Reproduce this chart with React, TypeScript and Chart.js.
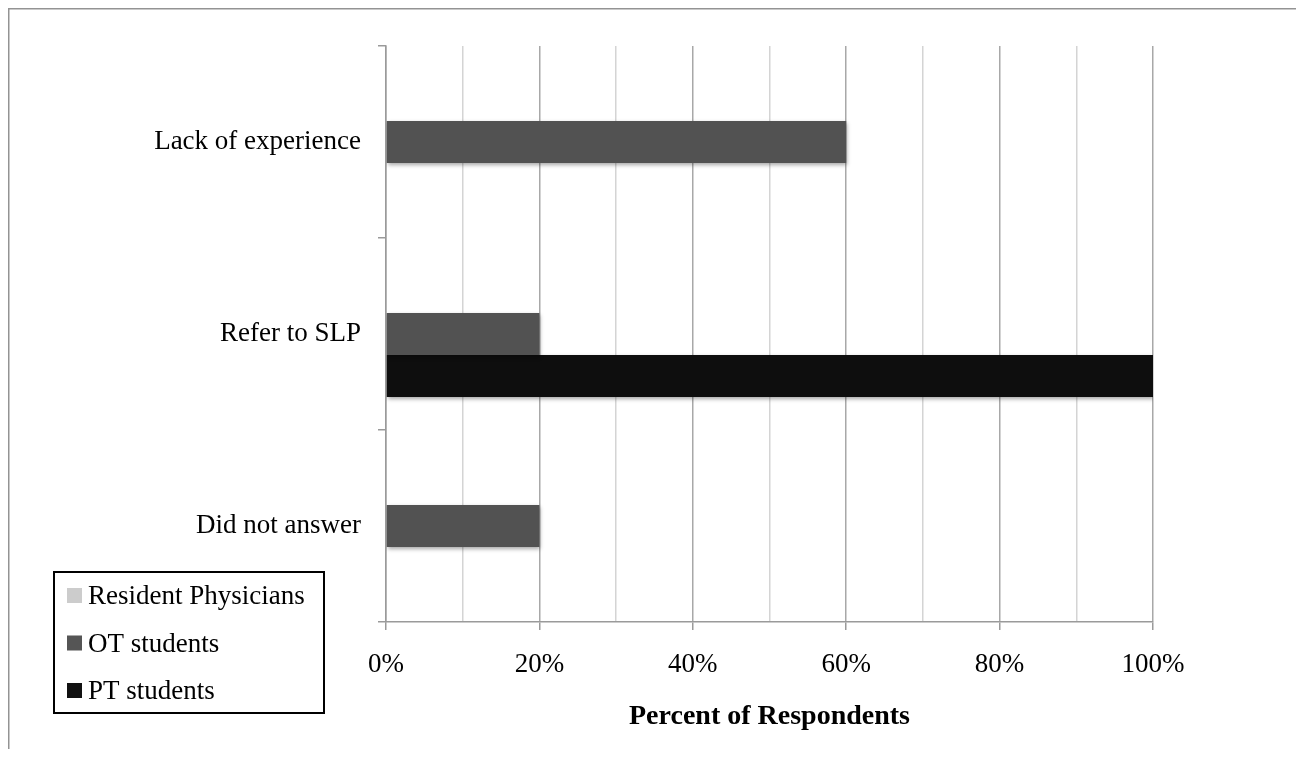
import { useEffect, useRef } from 'react';
import { Chart, registerables } from 'chart.js';

Chart.register(...registerables);

// Reasons given, one row per category
const categories = ['Lack of experience', 'Refer to SLP', 'Did not answer'];

// Percent of respondents in each group
const residentPhysicians = [0, 0, 0];
const otStudents = [60, 20, 20];
const ptStudents = [0, 100, 0];

const seriesNames = ['Resident Physicians', 'OT students', 'PT students'];
const seriesColors = ['#c8c8c8', '#525252', '#0e0e0e'];
const legendSwatchColors = ['#cccccc', '#555555', '#111111'];

const axisTitle = 'Percent of Respondents';

const FONT = "'Liberation Serif', 'Times New Roman', serif";
const CANVAS_W = 1290;
const CANVAS_H = 749;

// Soft drop shadow under each bar
const barShadow = {
  id: 'barShadow',
  beforeDatasetsDraw(chart: Chart) {
    const ctx = chart.ctx;
    ctx.save();
    ctx.shadowColor = 'rgba(0,0,0,0.35)';
    ctx.shadowBlur = 4;
    ctx.shadowOffsetX = 1;
    ctx.shadowOffsetY = 2;
  },
  afterDatasetsDraw(chart: Chart) {
    chart.ctx.restore();
  },
};

// Outer frame around the chart (top, left and right edges)
const frame = {
  id: 'frame',
  afterDraw(chart: Chart) {
    const { ctx, width, height } = chart;
    ctx.save();
    ctx.strokeStyle = '#939393';
    ctx.lineWidth = 1.5;
    ctx.beginPath();
    ctx.moveTo(0.75, height);
    ctx.lineTo(0.75, 0.75);
    ctx.lineTo(width - 0.75, 0.75);
    ctx.lineTo(width - 0.75, height);
    ctx.stroke();
    ctx.restore();
  },
};

// Boxed legend in the lower-left corner
const boxedLegend = {
  id: 'boxedLegend',
  afterDraw(chart: Chart) {
    const { ctx } = chart;
    const left = 46;
    const top = 564;
    const w = 270;
    const h = 141;
    const rowGap = 47.5;
    const firstRow = 587.5;
    ctx.save();
    ctx.strokeStyle = '#000';
    ctx.lineWidth = 2;
    ctx.strokeRect(left, top, w, h);
    ctx.font = `27px ${FONT}`;
    ctx.textBaseline = 'middle';
    ctx.textAlign = 'left';
    chart.data.datasets.forEach((ds, i) => {
      const cy = firstRow + i * rowGap;
      ctx.fillStyle = legendSwatchColors[i];
      ctx.fillRect(left + 13, cy - 7.5, 15, 15);
      ctx.fillStyle = '#000';
      ctx.fillText(String(ds.label), left + 34, cy + 1.5);
    });
    ctx.restore();
  },
};

export default function App() {
  const canvasRef = useRef<HTMLCanvasElement | null>(null);

  useEffect(() => {
    if (!canvasRef.current) return;
    const chart = new Chart(canvasRef.current, {
      type: 'bar',
      data: {
        labels: categories,
        datasets: [
          { label: seriesNames[0], data: residentPhysicians, backgroundColor: seriesColors[0] },
          { label: seriesNames[1], data: otStudents, backgroundColor: seriesColors[1] },
          { label: seriesNames[2], data: ptStudents, backgroundColor: seriesColors[2] },
        ],
      },
      options: {
        indexAxis: 'y',
        responsive: false,
        devicePixelRatio: 1,
        animation: false,
        layout: { padding: { top: 38, right: 145, left: 0, bottom: 0 } },
        datasets: {
          bar: { categoryPercentage: 0.656, barPercentage: 1, borderWidth: 0 },
        },
        plugins: {
          legend: { display: false },
          tooltip: { enabled: false },
        },
        scales: {
          x: {
            type: 'linear',
            min: 0,
            max: 100,
            afterFit(scale: any) {
              scale.height = CANVAS_H - 614;
            },
            ticks: {
              stepSize: 10,
              autoSkip: false,
              maxRotation: 0,
              padding: 19,
              color: '#000',
              font: { family: FONT, size: 27 },
              callback: (v: any) => (Number(v) % 20 === 0 ? `${v}%` : ''),
            },
            grid: {
              drawTicks: true,
              tickLength: 8,
              lineWidth: 1.5,
              color: (c: any) => (c.tick && c.tick.value % 20 === 0 ? '#a8a8a8' : '#d4d4d4'),
              tickColor: (c: any) => (c.tick && c.tick.value % 20 === 0 ? '#9a9a9a' : 'rgba(0,0,0,0)'),
            },
            border: { display: true, color: '#9a9a9a', width: 1.5 },
            title: {
              display: true,
              text: axisTitle,
              color: '#000',
              font: { family: FONT, size: 28, weight: 'bold' },
              padding: { top: 0, bottom: 23 },
            },
          },
          y: {
            type: 'category',
            afterFit(scale: any) {
              scale.width = 378;
            },
            ticks: {
              padding: 17,
              color: '#000',
              font: { family: FONT, size: 27 },
            },
            grid: {
              offset: true,
              drawOnChartArea: false,
              drawTicks: true,
              tickLength: 8,
              lineWidth: 1.5,
              color: '#9a9a9a',
              tickColor: '#9a9a9a',
            },
            border: { display: true, color: '#9a9a9a', width: 1.5 },
          },
        },
      },
      plugins: [barShadow, frame, boxedLegend],
    } as any);
    return () => chart.destroy();
  }, []);

  return (
    <div style={{ width: CANVAS_W, height: CANVAS_H, marginBottom: -8 }}>
      <canvas ref={canvasRef} width={CANVAS_W} height={CANVAS_H} style={{ display: 'block' }} />
    </div>
  );
}
